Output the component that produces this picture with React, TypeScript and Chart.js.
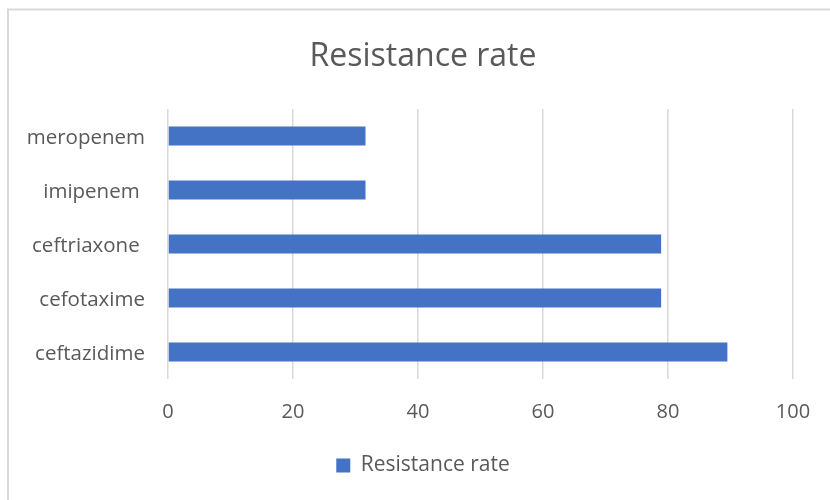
import React, { useEffect, useRef } from "react";
import { Chart, registerables } from "chart.js";

Chart.register(...registerables);

const categories = ["meropenem", "imipenem ", "ceftriaxone ", "cefotaxime", "ceftazidime"];
const resistanceRate = [31.6, 31.6, 78.9, 78.9, 89.5];
const xTicks = [0, 20, 40, 60, 80, 100];
const seriesName = "Resistance rate";
const titleText = "Resistance rate";

const FONT = "'Open Sans', sans-serif";
const TEXT = "#595959";

const borderPlugin = {
  id: "chartBorder",
  beforeDraw(chart: any) {
    const ctx = chart.ctx;
    ctx.save();
    ctx.fillStyle = "#ffffff";
    ctx.fillRect(0, 0, chart.width, chart.height);
    ctx.strokeStyle = "#d9d9d9";
    ctx.lineWidth = 2;
    ctx.strokeRect(8, 9.5, 830, 520);
    ctx.restore();
  },
};

export default function App() {
  const ref = useRef<HTMLCanvasElement | null>(null);
  useEffect(() => {
    document.body.style.margin = "0";
    document.body.style.overflow = "hidden";
    const chart = new Chart(ref.current!, {
      type: "bar",
      data: {
        labels: categories,
        datasets: [
          {
            label: seriesName,
            data: resistanceRate,
            backgroundColor: "#4472C4",
            borderWidth: 0,
            barPercentage: 0.35,
            categoryPercentage: 1,
          },
        ],
      },
      options: {
        indexAxis: "y",
        responsive: false,
        animation: false,
        layout: { padding: { left: 10, right: 10, top: 0, bottom: 14 } },
        scales: {
          x: {
            min: 0,
            max: 100,
            afterBuildTicks: (s: any) => {
              s.ticks = xTicks.map((v) => ({ value: v }));
            },
            afterFit: (s: any) => {
              s.height = 66;
            },
            grid: { color: "#d9d9d9", lineWidth: 1.5, drawTicks: false },
            border: { display: false },
            ticks: { font: { family: FONT, size: 20 }, color: TEXT, padding: 21 },
          },
          y: {
            grid: { display: false, drawTicks: false },
            border: { display: false },
            ticks: { font: { family: FONT, size: 20.5 }, color: TEXT, padding: 23, labelOffset: 2 },
            afterFit: (s: any) => {
              s.width = 158;
            },
          },
          yR: {
            type: "linear",
            position: "right",
            display: true,
            grid: { display: false, drawTicks: false },
            border: { display: false },
            ticks: { display: false },
            afterFit: (s: any) => {
              s.width = 43;
            },
          },
        },
        plugins: {
          title: {
            display: true,
            text: titleText,
            color: TEXT,
            font: { family: FONT, size: 32, weight: "normal" },
            padding: { top: 38, bottom: 32.6 },
          },
          legend: {
            position: "bottom",
            labels: {
              boxWidth: 14,
              boxHeight: 14,
              color: TEXT,
              font: { family: FONT, size: 21 },
              padding: 10,
            },
          },
          tooltip: { enabled: false },
        },
      },
      plugins: [borderPlugin],
    });
    return () => chart.destroy();
  }, []);
  return (
    <div style={{ width: 830, height: 500, overflow: "hidden" }}>
      <canvas ref={ref} width={846} height={500} style={{ display: "block" }} />
    </div>
  );
}
